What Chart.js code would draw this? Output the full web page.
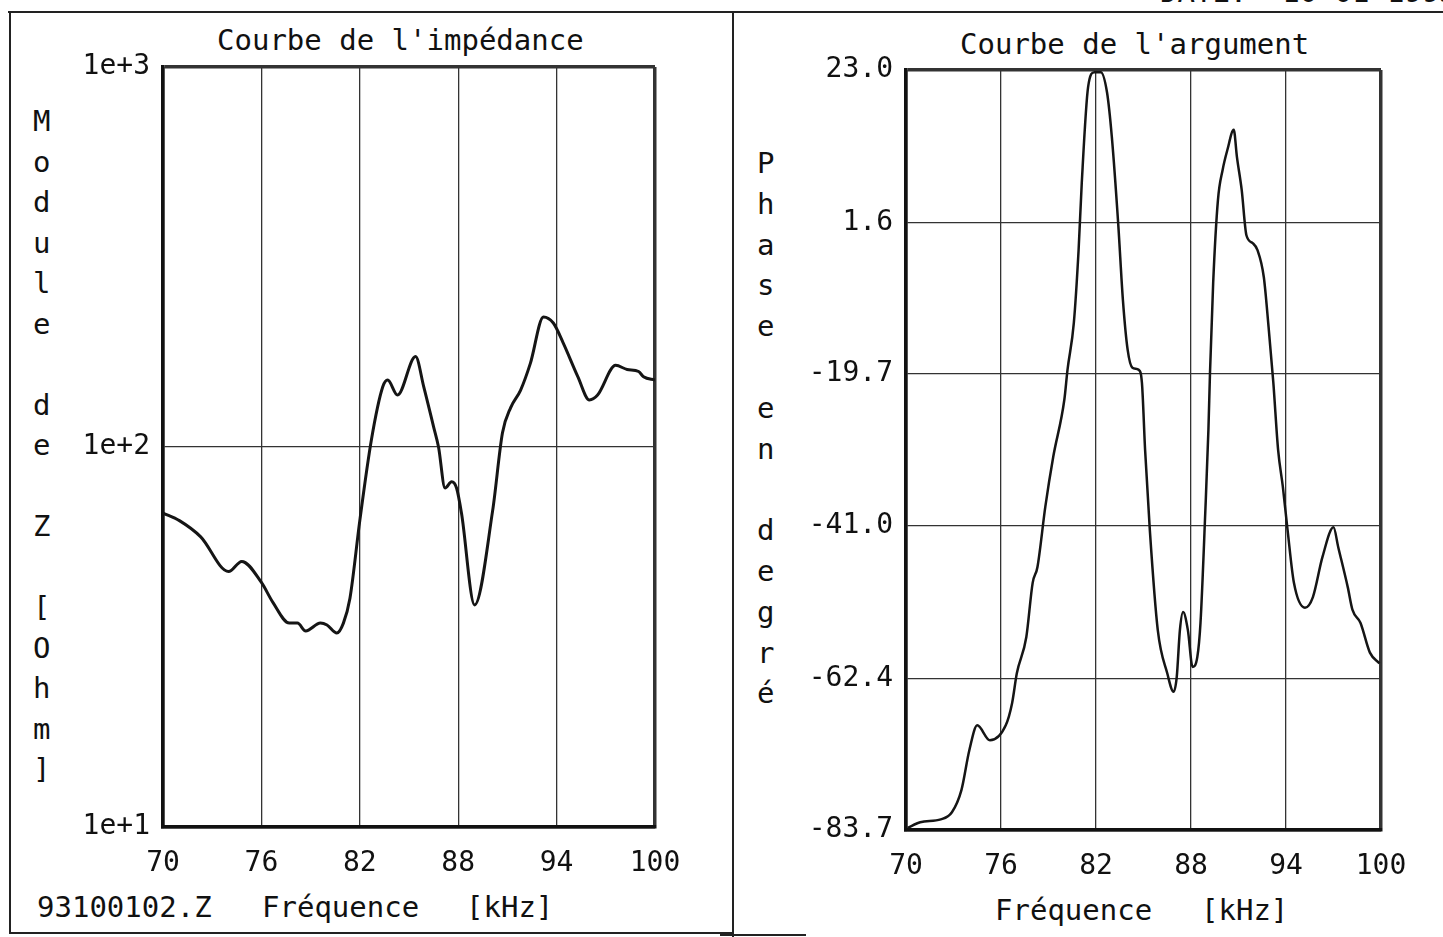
<!DOCTYPE html>
<html>
<head>
<meta charset="utf-8">
<script src="https://cdn.jsdelivr.net/npm/chart.js@4.4.1/dist/chart.umd.min.js"></script>
<style>
  body { margin: 0; background: #fff; }
  #page { position: relative; width: 1443px; height: 937px; overflow: hidden; background: #fff;
          font-family: 'DejaVu Sans Mono', monospace; color: #111; }
  .txt { position: absolute; font-size: 29px; white-space: pre; line-height: 1; }
  .line { position: absolute; background: #222; }
  canvas { position: absolute; top: 0; }
</style>
</head>
<body>
<div id="page">
  <div class="line" style="left:8px;top:11px;width:1435px;height:2px"></div>
  <div class="line" style="left:9px;top:11px;width:2px;height:923px"></div>
  <div class="line" style="left:9px;top:932px;width:724px;height:2px"></div>
  <div class="line" style="left:732px;top:11px;width:2px;height:926px"></div>
  <div class="line" style="left:720px;top:934px;width:86px;height:2px"></div>
  <div class="txt" style="left:1160px;top:-22px">DATE:  10-01-1993</div>

  <div class="txt" style="left:217px;top:26px">Courbe de l'impédance</div>
  <div class="txt" style="left:960px;top:30px">Courbe de l'argument</div>
  <div class="txt" style="left:37px;top:893px">93100102.Z</div>
  <div class="txt" style="left:262px;top:893px">Fréquence</div>
  <div class="txt" style="left:466px;top:893px">[kHz]</div>
  <div class="txt" style="left:995px;top:896px">Fréquence</div>
  <div class="txt" style="left:1201px;top:896px">[kHz]</div>
  <div id="leftLetters"></div>
  <div id="rightLetters"></div>

  <canvas id="zChart" style="left:0px"></canvas>
  <canvas id="phiChart" style="left:733px"></canvas>
</div>
<script>
// frequency axis (kHz)
const freqTicks = [70, 76, 82, 88, 94, 100];

// impedance modulus |Z| [Ohm]
const zFreq = [70.0, 71.0, 72.3, 74.0, 74.8, 76.0, 76.7, 77.7, 78.2, 78.7, 79.6, 80.0, 80.6, 81.0,
  81.4, 82.0, 82.7, 83.4, 83.7, 84.3, 85.4, 85.9, 86.5, 86.8, 87.2, 87.6, 87.9, 88.2, 89.0, 90.1,
  90.7, 91.2, 91.8, 92.4, 93.2, 93.8, 94.4, 95.3, 96.0, 96.5, 97.6, 98.3, 99.0, 99.3, 100.0];
const zModule = [67, 64, 58, 47, 50, 44, 39, 34.4, 34.4, 32.8, 34.4, 34, 32.4, 34.4,
  40, 64, 104, 144, 150, 137, 173, 144, 113, 100, 78, 81, 78, 67, 38.4, 68,
  109, 127, 141, 166, 220, 212, 188, 153, 133, 137, 164, 160, 158, 153, 150];
const zTicks = [10, 100, 1000];
const zTickLabels = ['1e+1', '1e+2', '1e+3'];

// phase [degrees]
const phiFreq = [70.1, 70.9, 72.2, 72.9, 73.5, 74.0, 74.5, 75.3, 76.3, 76.7, 77.0, 77.6, 78.0, 78.3,
  78.8, 79.3, 80.0, 80.2, 80.6, 80.9, 81.1, 81.5, 81.9, 82.3, 82.7, 83.0, 83.4, 83.7, 84.0, 84.3,
  84.7, 84.9, 85.1, 85.4, 85.9, 86.5, 86.9, 87.1, 87.3, 87.5, 87.8, 88.1, 88.4, 88.6, 88.9, 89.1,
  89.2, 89.4, 89.7, 90.0, 90.3, 90.7, 90.9, 91.2, 91.5, 91.9, 92.2, 92.6, 92.9, 93.2, 93.5, 93.8,
  94.1, 94.5, 95.2, 95.7, 96.3, 97.0, 97.3, 97.9, 98.2, 98.7, 99.3, 99.9];
const phiValues = [-83.4, -82.6, -82.2, -81.2, -78.1, -72.5, -69.0, -71.1, -69.0, -65.9, -61.7, -56.6, -49.0, -46.8,
  -38.3, -31.3, -23.3, -19.1, -12.5, -2.3, 7.1, 20.6, 22.7, 22.7, 19.8, 13.6, 1.5, -9.3, -16.3, -18.8,
  -19.1, -20.9, -30.3, -41.6, -55.6, -61.7, -64.3, -62.2, -55.6, -53.1, -55.6, -60.8, -59.4, -54.6, -39.2, -27.5,
  -19.5, -6.9, 4.7, 9.0, 11.8, 14.6, 10.8, 6.2, -0.2, -1.3, -2.3, -6.1, -13.1, -20.9, -30.3, -35.5,
  -41.6, -49.0, -52.5, -51.0, -45.4, -41.2, -44.0, -49.6, -52.8, -54.6, -58.8, -60.3];
const phiTicks = [23.0, 1.6, -19.7, -41.0, -62.4, -83.7];

const leftLetters = ['M','o','d','u','l','e','','d','e','','Z','','[','O','h','m',']'];
const rightLetters = ['P','h','a','s','e','','e','n','','d','e','g','r','é'];

function stackLetters(id, letters, x, y0, step) {
  const box = document.getElementById(id);
  letters.forEach((ch, i) => {
    if (!ch) return;
    const d = document.createElement('div');
    d.className = 'txt';
    d.style.left = (x - 9) + 'px';
    d.style.top = (y0 + i * step - 15) + 'px';
    d.textContent = ch;
    box.appendChild(d);
  });
}
stackLetters('leftLetters', leftLetters, 42, 122, 40.5);
stackLetters('rightLetters', rightLetters, 766, 164, 40.8);

Chart.defaults.font.family = "'DejaVu Sans Mono', monospace";
Chart.defaults.color = '#111';

function edgeWidth(ctx, lo, hi) {
  const v = ctx.tick ? ctx.tick.value : null;
  return (v === lo || v === hi) ? 3.5 : 1.3;
}

function makeChart(id, w, h, xs, ys, lineW, yOpts, pad, yWidth, xHeight) {
  const cv = document.getElementById(id);
  cv.width = w; cv.height = h;
  cv.style.width = w + 'px'; cv.style.height = h + 'px';
  return new Chart(cv, {
    type: 'line',
    data: {
      datasets: [{
        data: xs.map((x, i) => ({ x: x, y: ys[i] })),
        borderColor: '#151515',
        borderWidth: lineW,
        pointRadius: 0,
        tension: 0.35,
        cubicInterpolationMode: 'monotone',
        fill: false
      }]
    },
    options: {
      responsive: false,
      animation: false,
      layout: { padding: pad },
      plugins: { legend: { display: false }, tooltip: { enabled: false } },
      scales: {
        x: {
          type: 'linear',
          min: 70, max: 100,
          afterBuildTicks: s => { s.ticks = freqTicks.map(v => ({ value: v })); },
          afterFit: s => { s.height = xHeight; },
          ticks: { font: { size: 28 }, padding: 20, maxRotation: 0, color: '#111' },
          grid: { color: '#333', drawTicks: false, lineWidth: c => edgeWidth(c, 70, 100) },
          border: { display: true, color: '#111', width: 3.5 }
        },
        y: Object.assign({
          afterFit: s => { s.width = yWidth; },
          grid: { color: '#333', drawTicks: false },
          border: { display: true, color: '#111', width: 3.5 }
        }, yOpts)
      }
    }
  });
}

makeChart('zChart', 720, 937, zFreq, zModule, 3, {
  type: 'logarithmic',
  min: 10, max: 1000,
  afterBuildTicks: s => { s.ticks = zTicks.map(v => ({ value: v })); },
  ticks: {
    font: { size: 28 }, padding: 13, color: '#111',
    callback: v => zTickLabels[zTicks.indexOf(v)]
  },
  grid: { color: '#333', drawTicks: false, lineWidth: c => edgeWidth(c, 10, 1000) }
}, { top: 67, right: 65, left: 0, bottom: 0 }, 163, 110);

makeChart('phiChart', 710, 937, phiFreq, phiValues, 2.5, {
  type: 'linear',
  min: -83.7, max: 23.0,
  afterBuildTicks: s => { s.ticks = phiTicks.map(v => ({ value: v })); },
  ticks: {
    font: { size: 28 }, padding: 13, color: '#111',
    callback: v => v.toFixed(1)
  },
  grid: { color: '#333', drawTicks: false, lineWidth: c => edgeWidth(c, -83.7, 23.0) }
}, { top: 70, right: 62, left: 0, bottom: 0 }, 173, 107);
</script>
</body>
</html>
